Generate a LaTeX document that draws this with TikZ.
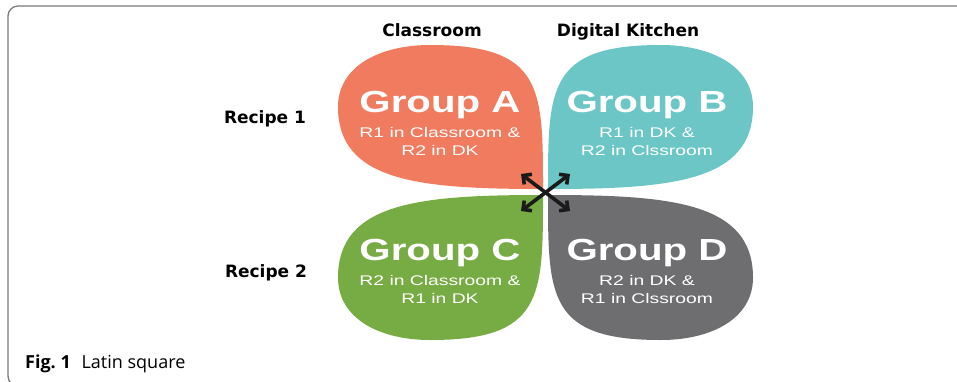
\documentclass[tikz,border=0pt]{standalone}
\usepackage{fontspec}
\setmainfont{DejaVu Sans}
\newfontfamily\grpfont[FakeStretch=1.32]{Liberation Sans}
\newfontfamily\linefont[FakeStretch=1.38]{Liberation Sans}
\newfontfamily\labelfont{DejaVu Sans}
\newfontfamily\capfont{Open Sans}
\usetikzlibrary{arrows.meta}

\definecolor{petalA}{HTML}{F07B5F}
\definecolor{petalB}{HTML}{6CC6C6}
\definecolor{petalC}{HTML}{77AB43}
\definecolor{petalD}{HTML}{6E6E71}
\definecolor{framegray}{HTML}{7A7A7A}
\definecolor{arrowink}{HTML}{1A1A1A}

% one leaf of the clover: sharp corner at the origin, bulging into x<0, y<0
\newcommand{\leaf}[1]{%
  \fill[#1] (0,0) .. controls (-0.6,0) and (-1,-0.05) .. (-1,-0.57)
    .. controls (-1,-0.85) and (-0.8,-1) .. (-0.55,-1)
    .. controls (0,-1) and (0,-0.7) .. (0,0) -- cycle;}

\tikzset{
  grouptitle/.style={text=white, inner sep=0pt, anchor=base,
    font=\grpfont\bfseries\fontsize{30.5}{30.5}\selectfont},
  groupline/.style={text=white, inner sep=0pt, anchor=base,
    font=\linefont\fontsize{14}{14}\selectfont},
  headlabel/.style={text=black, inner sep=0pt, anchor=base,
    font=\labelfont\bfseries\fontsize{17}{17}\selectfont},
  swap/.style={draw=arrowink, line width=3.6pt,
    {Straight Barb[angle=90:9pt]}-{Straight Barb[angle=90:9pt]}},
}

\begin{document}
\begin{tikzpicture}[x=1pt, y=-1pt]
\useasboundingbox (0,0) rectangle (957,381);

% frame of the figure
\draw[framegray, line width=1.3pt, rounded corners=10pt]
  (970,6) -- (8,6) -- (8,386) -- (970,386);

% the four leaves
\begin{scope}[shift={(543,189)}, x=205pt, y=-144pt]\leaf{petalA}\end{scope}
\begin{scope}[shift={(548,189)}, x=-205pt, y=-144pt]\leaf{petalB}\end{scope}
\begin{scope}[shift={(543,195)}, x=205pt, y=145pt]\leaf{petalC}\end{scope}
\begin{scope}[shift={(548,195)}, x=-205pt, y=145pt]\leaf{petalD}\end{scope}

% column and row headings
\node[headlabel] (classroom) at (432,36) {Classroom};
\node[headlabel] (kitchen) at (628,36) {Digital Kitchen};
\node[headlabel] (recipe1) at (265,123) {Recipe 1};
\node[headlabel] (recipe2) at (266,277) {Recipe 2};

% group texts
\node[grouptitle] (ga) at (440,112) {Group A};
\node[groupline] (ga1) at (440,137) {R1 in Classroom \&};
\node[groupline] (ga2) at (440,155) {R2 in DK};

\node[grouptitle] (gb) at (647,112) {Group B};
\node[groupline] (gb1) at (647,137) {R1 in DK \&};
\node[groupline] (gb2) at (647,155) {R2 in Clssroom};

\node[grouptitle] (gc) at (440,260) {Group C};
\node[groupline] (gc1) at (440,285) {R2 in Classroom \&};
\node[groupline] (gc2) at (440,303) {R1 in DK};

\node[grouptitle] (gd) at (647,260) {Group D};
\node[groupline] (gd1) at (647,285) {R2 in DK \&};
\node[groupline] (gd2) at (647,303) {R1 in Clssroom};

% crossing double arrows at the centre
\coordinate (nw) at (521,174);
\coordinate (se) at (570,211);
\coordinate (sw) at (521,211);
\coordinate (ne) at (570,174);
\draw[swap] (nw) -- (se);
\draw[swap] (sw) -- (ne);

% caption
\node[anchor=base west, inner sep=0pt, font=\capfont\fontsize{18}{18}\selectfont]
  (caption) at (25,368) {\textbf{Fig.~1}\hspace{0.6em}Latin square};
\end{tikzpicture}
\end{document}
